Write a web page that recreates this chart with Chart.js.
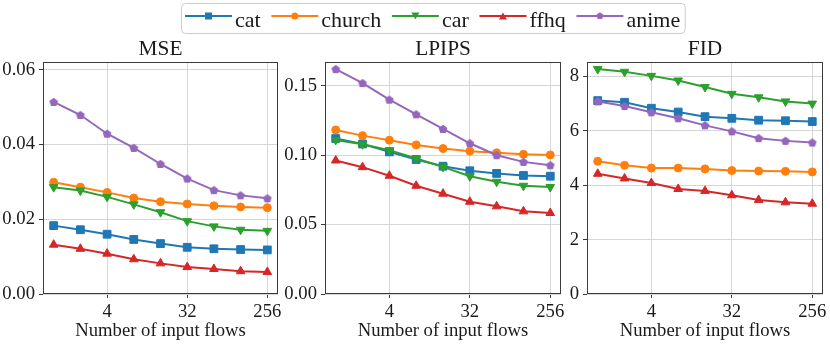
<!DOCTYPE html>
<html>
<head>
<meta charset="utf-8">
<script src="https://cdn.jsdelivr.net/npm/chart.js@4.4.0/dist/chart.umd.min.js"></script>
<style>
html, body { margin: 0; padding: 0; background: #fff; }
#wrap { position: relative; width: 830px; height: 345px; }
#wrap canvas { position: absolute; left: 0; top: 0; }
</style>
</head>
<body>
<div id="wrap">
  <canvas id="cMse" width="830" height="345"></canvas>
  <canvas id="cLpips" width="830" height="345"></canvas>
  <canvas id="cFid" width="830" height="345"></canvas>
  <canvas id="cLegend" width="830" height="345"></canvas>
</div>
<script>
// data
const flows = [1, 2, 4, 8, 16, 32, 64, 128, 256];
const xTickValues = [4, 32, 256];
const names = ["cat", "church", "car", "ffhq", "anime"];

const mseCat    = [0.0183, 0.0172, 0.0160, 0.0146, 0.0135, 0.0125, 0.0121, 0.0119, 0.0118];
const mseChurch = [0.0299, 0.0286, 0.0272, 0.0257, 0.0247, 0.0241, 0.0236, 0.0233, 0.0231];
const mseCar    = [0.0286, 0.0277, 0.0260, 0.0240, 0.0219, 0.0195, 0.0181, 0.0172, 0.0169];
const mseFfhq   = [0.0132, 0.0121, 0.0108, 0.0093, 0.0082, 0.0072, 0.0067, 0.0061, 0.0059];
const mseAnime  = [0.0514, 0.0479, 0.0429, 0.0391, 0.0348, 0.0309, 0.0278, 0.0264, 0.0256];
const mseTicks  = [0, 0.02, 0.04, 0.06];

const lpipsCat    = [0.1119, 0.1080, 0.1023, 0.0968, 0.0920, 0.0887, 0.0868, 0.0853, 0.0848];
const lpipsChurch = [0.1181, 0.1140, 0.1107, 0.1073, 0.1047, 0.1028, 0.1016, 0.1006, 0.1001];
const lpipsCar    = [0.1109, 0.1078, 0.1035, 0.0975, 0.0915, 0.0848, 0.0808, 0.0779, 0.0770];
const lpipsFfhq   = [0.0961, 0.0913, 0.0851, 0.0779, 0.0722, 0.0664, 0.0631, 0.0595, 0.0583];
const lpipsAnime  = [0.1619, 0.1518, 0.1399, 0.1293, 0.1188, 0.1085, 0.0999, 0.0951, 0.0927];
const lpipsTicks  = [0, 0.05, 0.10, 0.15];

const fidCat    = [7.11, 7.05, 6.83, 6.69, 6.52, 6.46, 6.39, 6.37, 6.34];
const fidChurch = [4.88, 4.73, 4.63, 4.63, 4.60, 4.54, 4.52, 4.51, 4.49];
const fidCar    = [8.27, 8.17, 8.02, 7.85, 7.61, 7.36, 7.23, 7.08, 7.00];
const fidFfhq   = [4.42, 4.25, 4.08, 3.86, 3.79, 3.63, 3.46, 3.37, 3.32];
const fidAnime  = [7.08, 6.91, 6.68, 6.46, 6.20, 5.98, 5.73, 5.63, 5.57];
const fidTicks  = [0, 2, 4, 6, 8];

// styles
const colors = ["#1f77b4", "#ff7f0e", "#2ca02c", "#d62728", "#9467bd"];
const serif = "'Liberation Serif', 'Times New Roman', serif";
const textColor = "#1a1a1a";

function pentagonImage(color, r) {
    const c = document.createElement("canvas");
    const s = Math.ceil(2 * r + 2);
    c.width = s; c.height = s;
    const g = c.getContext("2d");
    g.fillStyle = color;
    g.beginPath();
    for (let k = 0; k < 5; k++) {
        const a = -Math.PI / 2 + k * 2 * Math.PI / 5;
        const px = s / 2 + r * Math.cos(a), py = s / 2 + r * Math.sin(a) + 0.4;
        if (k === 0) g.moveTo(px, py); else g.lineTo(px, py);
    }
    g.closePath();
    g.fill();
    return c;
}

const pentagon = pentagonImage(colors[4], 4.6);
const pointStyles = ["rect", "circle", "triangle", "triangle", pentagon];
const pointRotations = [0, 0, 180, 0, 0];
const pointRadii = [5.5, 4, 5, 5, 4.6];

// draw the top and right spines too
const framePlugin = {
    id: "frame",
    afterDatasetsDraw(chart) {
        const ctx = chart.ctx, a = chart.chartArea;
        ctx.save();
        ctx.strokeStyle = "#3a3a3a";
        ctx.lineWidth = 1;
        const l = Math.round(a.left) + 0.5, t = Math.round(a.top) + 0.5;
        const r = Math.round(a.right) - 0.5, b = Math.round(a.bottom) - 0.5;
        ctx.strokeRect(l, t, r - l, b - t);
        ctx.restore();
    }
};

function makeChart(id, title, series, yMax, yTicks, fmt, padLeft, padRight) {
    return new Chart(document.getElementById(id), {
        type: "line",
        data: {
            datasets: series.map((vals, i) => ({
                label: names[i],
                data: flows.map((f, j) => ({ x: f, y: vals[j] })),
                borderColor: colors[i],
                backgroundColor: colors[i],
                borderWidth: 2,
                pointStyle: pointStyles[i],
                rotation: pointRotations[i],
                pointRadius: pointRadii[i],
                pointBorderWidth: 1,
                pointBorderColor: colors[i],
                pointBackgroundColor: colors[i],
                tension: 0,
                order: series.length - i
            }))
        },
        options: {
            responsive: false,
            animation: false,
            events: [],
            layout: { padding: { left: padLeft, right: padRight, top: 0, bottom: 0 } },
            plugins: {
                legend: { display: false },
                tooltip: { enabled: false },
                title: {
                    display: true,
                    text: title,
                    fullSize: false,
                    color: textColor,
                    font: { family: serif, size: 21.33, weight: "normal", lineHeight: "26px" },
                    padding: { top: 36, bottom: 0 }
                }
            },
            scales: {
                x: {
                    type: "logarithmic",
                    min: Math.pow(2, -0.4),
                    max: Math.pow(2, 8.4),
                    afterBuildTicks: s => { s.ticks = xTickValues.map(v => ({ value: v })); },
                    afterFit: s => { s.height = 51; s.paddingLeft = 0; s.paddingRight = 0; },
                    ticks: {
                        callback: v => String(v),
                        color: textColor,
                        font: { family: serif, size: 18.67 },
                        padding: 3,
                        maxRotation: 0,
                        autoSkip: false
                    },
                    grid: { color: "#d6d6d6", tickColor: "#3a3a3a", tickLength: 4, lineWidth: 1 },
                    border: { display: false },
                    title: {
                        display: true,
                        text: "Number of input flows",
                        color: textColor,
                        font: { family: serif, size: 18.67, lineHeight: "22px" },
                        padding: { top: 0, bottom: 3 }
                    }
                },
                y: {
                    min: 0,
                    max: yMax,
                    afterBuildTicks: s => { s.ticks = yTicks.map(v => ({ value: v })); },
                    afterFit: s => { s.width = 43; s.paddingTop = 0; s.paddingBottom = 0; },
                    ticks: {
                        callback: fmt,
                        color: textColor,
                        font: { family: serif, size: 18.67 },
                        padding: 4
                    },
                    grid: { color: "#d6d6d6", tickColor: "#3a3a3a", tickLength: 4, lineWidth: 1 },
                    border: { display: false }
                }
            }
        },
        plugins: [framePlugin]
    });
}

const two = v => Number(v).toFixed(2);
makeChart("cMse", "MSE", [mseCat, mseChurch, mseCar, mseFfhq, mseAnime],
    0.0621, mseTicks, two, 0, 552);
makeChart("cLpips", "LPIPS", [lpipsCat, lpipsChurch, lpipsCar, lpipsFfhq, lpipsAnime],
    0.167, lpipsTicks, two, 282, 269);
makeChart("cFid", "FID", [fidCat, fidChurch, fidCar, fidFfhq, fidAnime],
    8.53, fidTicks, v => String(v), 544, 7);

// legend across the top
function legendMarker(g, i, x, y) {
    g.fillStyle = colors[i];
    g.beginPath();
    if (i === 0) {
        g.rect(x - 3.5, y - 3.5, 7, 7);
    } else if (i === 1) {
        g.arc(x, y, 3.5, 0, Math.PI * 2);
    } else if (i === 2) {
        g.moveTo(x - 4, y - 3.5); g.lineTo(x + 4, y - 3.5); g.lineTo(x, y + 3.5);
    } else if (i === 3) {
        g.moveTo(x - 4, y + 3.5); g.lineTo(x + 4, y + 3.5); g.lineTo(x, y - 3.5);
    } else {
        for (let k = 0; k < 5; k++) {
            const a = -Math.PI / 2 + k * 2 * Math.PI / 5;
            const px = x + 3.8 * Math.cos(a), py = y + 3.8 * Math.sin(a);
            if (k === 0) g.moveTo(px, py); else g.lineTo(px, py);
        }
    }
    g.closePath();
    g.fill();
}

function drawLegend() {
    const g = document.getElementById("cLegend").getContext("2d");
    g.font = "22px " + serif;
    const items = [];
    let x = 185;
    names.forEach((n, i) => {
        items.push({ x: x, n: n, i: i });
        x += 50 + g.measureText(n).width + 10.7;
    });
    const right = x - 10.7 + 5;
    const bx = 181.5, by = 3.5, bw = right - bx, bh = 30, rad = 4;
    g.beginPath();
    g.moveTo(bx + rad, by);
    g.arcTo(bx + bw, by, bx + bw, by + bh, rad);
    g.arcTo(bx + bw, by + bh, bx, by + bh, rad);
    g.arcTo(bx, by + bh, bx, by, rad);
    g.arcTo(bx, by, bx + bw, by, rad);
    g.closePath();
    g.fillStyle = "rgba(255,255,255,0.8)";
    g.fill();
    g.strokeStyle = "#cccccc";
    g.lineWidth = 1;
    g.stroke();
    items.forEach(it => {
        g.strokeStyle = colors[it.i];
        g.lineWidth = 2;
        g.beginPath();
        g.moveTo(it.x, 16);
        g.lineTo(it.x + 47, 16);
        g.stroke();
        legendMarker(g, it.i, it.x + 23.5, 16);
        g.fillStyle = textColor;
        g.textBaseline = "alphabetic";
        g.fillText(it.n, it.x + 50, 26.7);
    });
}
drawLegend();
</script>
</body>
</html>
